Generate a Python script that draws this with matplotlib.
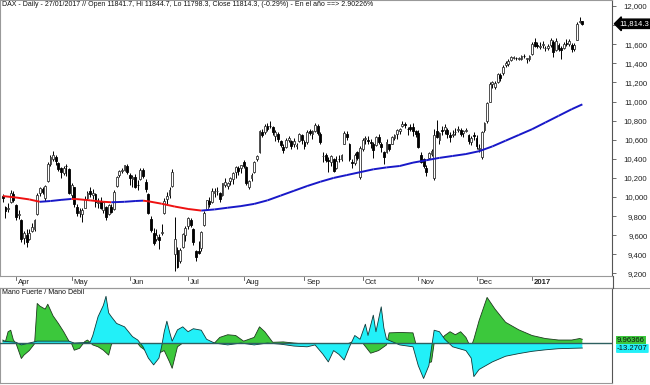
import matplotlib
matplotlib.use('Agg')
import matplotlib.pyplot as plt
import numpy as np
import pandas as pd
from matplotlib.collections import LineCollection
from matplotlib.transforms import blended_transform_factory
from matplotlib.lines import Line2D

plt.rcParams['font.family'] = ['Liberation Sans', 'DejaVu Sans']

# ---------------- data ----------------
holidays = ['2016-03-25', '2016-03-28', '2016-12-26']

opens = [10010,9900,9870,9950,10030,
 9920,9810,9760,9570,9600,9560,9640,9660,9820,10040,10080,9990,10170,10350,10400,10420,10360,10300,10250,10330,10290,
 10020,10100,9900,9830,9820,9890,9990,10060,10020,10030,9940,9960,9860,9900,9820,9900,9870,10120,10230,10270,10280,10320,
 10230,10190,10210,10130,10190,10280,10160,10030,9770,9620,9560,9580,9620,9830,9980,10020,10120,9400,9450,9330,9480,9600,
 9700,9760,9660,9430,9430,9470,9710,9870,9960,9950,10040,10060,10040,10020,10130,10120,10170,10190,10260,10300,10300,
 10370,10310,10100,10200,10260,10400,10470,10680,10680,10740,10740,10730,10640,10660,10590,10520,10520,10600,10590,10550,10530,10590,10650,
 10580,10580,10690,10660,10690,10740,10660,10430,10440,10380,10370,10400,10300,10400,10400,10560,10660,10560,10370,10360,10470,10210,
 10500,10610,10600,10570,10560,10540,10630,10560,10470,10470,10550,10560,10620,10660,10690,10740,10760,10710,10730,10730,10690,
 10670,10440,10400,10300,10410,10450,10200,10690,10600,10700,10700,10700,10650,10650,10680,10700,10700,10670,10690,10650,10580,10650,
 10620,10500,10420,10700,10800,11000,11180,11150,11200,11280,11300,11380,11390,11430,11460,11460,11450,11440,11480,11440,11440,
 11500,11620,11590,11570,11590,11560,11560,11590,11620,11540,11590,11560,11560,11610,11600,11590,11550,11640,11830,11842]

highs = [10030,9905,9940,10070,10060,
 9930,9860,9770,9640,9660,9660,9730,9770,10040,10110,10100,10130,10370,10440,10480,10440,10370,10310,10330,10350,10300,
 10150,10110,9930,9880,9880,10010,10060,10100,10080,10040,9990,10000,9960,9910,9930,9930,10070,10220,10280,10300,10340,10350,
 10250,10230,10240,10180,10300,10300,10190,10040,9800,9680,9660,9610,9720,9990,10050,10100,10290,9790,9480,9470,9620,9700,
 9790,9780,9680,9450,9540,9640,9850,9970,10000,10090,10090,10100,10050,10150,10200,10160,10210,10260,10330,10330,10340,
 10390,10320,10180,10250,10380,10440,10700,10710,10760,10770,10800,10740,10700,10680,10600,10560,10620,10640,10600,10620,10570,10670,10660,
 10600,10700,10710,10700,10770,10760,10680,10470,10460,10420,10440,10410,10430,10440,10450,10690,10690,10570,10400,10460,10480,10530,
 10620,10640,10640,10610,10580,10640,10660,10580,10480,10610,10560,10640,10660,10710,10720,10800,10790,10730,10760,10770,10700,
 10700,10470,10410,10340,10470,10500,10710,10810,10680,10740,10760,10720,10680,10700,10720,10740,10720,10700,10720,10660,10640,10680,
 10650,10550,10690,10790,11000,11200,11220,11220,11300,11300,11380,11420,11440,11480,11480,11470,11470,11490,11500,11460,11490,
 11620,11670,11620,11620,11630,11580,11600,11660,11640,11660,11610,11580,11620,11650,11650,11610,11610,11830,11890,11845]

lows = [9950,9780,9840,9940,9950,
 9760,9770,9530,9510,9480,9550,9630,9640,9810,10010,10030,9960,10160,10320,10380,10340,10270,10200,10230,10220,10030,
 9990,9900,9800,9790,9740,9880,9970,10000,9980,9900,9880,9870,9830,9760,9810,9830,9860,10110,10210,10250,10270,10240,
 10130,10110,10090,10070,10180,10200,10050,9820,9630,9500,9540,9460,9600,9820,9930,9990,10100,9225,9260,9310,9470,9540,
 9660,9690,9500,9330,9400,9440,9700,9860,9900,9940,10000,10020,9950,10010,10100,10080,10130,10140,10200,10230,10250,
 10300,10130,10080,10170,10250,10380,10460,10630,10660,10690,10720,10650,10590,10580,10520,10460,10510,10580,10500,10520,10500,10580,10560,
 10500,10560,10650,10610,10680,10650,10560,10370,10370,10260,10330,10260,10290,10370,10380,10550,10600,10380,10300,10340,10390,10190,
 10480,10560,10560,10510,10410,10530,10560,10470,10350,10460,10480,10550,10600,10610,10660,10730,10720,10650,10690,10640,10630,
 10510,10360,10300,10220,10400,10430,10180,10620,10560,10650,10660,10620,10580,10630,10650,10680,10640,10630,10680,10560,10540,10600,
 10500,10470,10400,10680,10780,10990,11140,11130,11190,11220,11280,11360,11370,11420,11440,11430,11430,11430,11460,11400,11420,
 11490,11570,11560,11550,11560,11530,11540,11570,11470,11530,11530,11450,11550,11580,11580,11520,11530,11640,11820,11798]

closes = [9990,9851,9887,10046,9965,
 9794,9822,9564,9624,9530,9622,9682,9761,10026,10094,10051,10120,10350,10421,10435,10373,10294,10259,10299,10321,10039,
 10123,9926,9828,9851,9869,9980,10045,10028,10038,9952,9952,9890,9943,9796,9916,9842,10057,10205,10272,10286,10333,10263,
 10204,10208,10103,10121,10288,10217,10088,9834,9657,9519,9606,9550,9631,9962,10015,10071,10257,9557,9268,9447,9612,9680,
 9776,9709,9532,9373,9418,9629,9833,9964,9930,10068,10066,10064,9981,10142,10157,10147,10198,10247,10319,10275,10337,
 10330,10144,10170,10228,10367,10432,10692,10650,10742,10713,10739,10676,10679,10603,10544,10494,10593,10622,10529,10587,10544,10657,10592,
 10534,10684,10672,10687,10752,10675,10573,10432,10386,10379,10431,10276,10373,10393,10436,10674,10627,10394,10361,10438,10405,10511,
 10600,10619,10585,10568,10490,10624,10577,10523,10414,10580,10503,10631,10645,10701,10711,10761,10757,10709,10717,10696,10665,
 10526,10370,10325,10259,10456,10482,10646,10630,10668,10693,10735,10664,10627,10665,10685,10713,10662,10689,10700,10582,10620,10640,
 10534,10513,10684,10775,10986,11179,11203,11190,11284,11244,11366,11404,11427,11464,11468,11456,11450,11472,11475,11451,11481,
 11598,11584,11585,11585,11599,11563,11583,11646,11521,11629,11554,11540,11599,11603,11630,11545,11595,11807,11848,11814]

# moving average (read at key trading-day positions)
ma_idx = [0,5,10,14,18,22,26,28,33,38,41,46,50,53,55,60,65,70,75,80,85,90,95,100,105,110,
          115,120,125,130,135,140,145,150,155,160,165,170,175,180,185,190,195,200,205,210,215,219]
ma_val = [10010,9995,9975,9950,9958,9970,9980,9978,9965,9950,9945,9950,9958,9962,9955,9930,9900,9875,9858,9870,
          9888,9905,9928,9965,10015,10065,10115,10160,10200,10230,10260,10290,10310,10325,10360,10385,10410,10430,
          10450,10480,10530,10590,10650,10710,10780,10850,10920,10970]

# Mano Fuerte (green) and Mano Debil (cyan) at key trading-day positions
g_idx = [0,1,2,3,4,5,7,8,10,12,13,14,16,17,19,21,23,25,26,27,29,31,32,34,36,38,40,41,42,50,52,55,58,61,63,64,66,
         70,74,77,80,82,85,88,91,95,97,99,102,106,110,115,120,123,126,129,133,136,139,142,145,146,150,155,156,158,
         160,162,163,165,167,169,171,173,175,176,177,178,180,183,186,190,195,200,205,210,215,218,219]
g_val = [8,4,30,34,8,-1,-41,-32,-20,-2,105,98,90,103,72,52,30,5,-2,-19,-14,4,8,-5,-10,-19,-32,-5,8,8,-10,-25,-30,-20,-50,-67,-10,
         10,8,5,0,15,22,20,5,15,43,30,2,3,0,-3,-5,-10,-15,-5,5,0,-27,-20,-5,27,28,27,0,-40,
         -54,-50,0,5,20,30,22,30,15,0,-10,10,60,121,90,55,35,20,12,8,8,12,9.96366]
c_idx = [0,5,7,10,13,25,27,33,34,36,38,39,40,41,43,46,49,51,53,55,57,59,60,61,62,63,64,66,68,70,72,75,77,80,85,90,95,
         100,105,110,115,118,121,123,125,127,129,131,133,135,137,138,140,141,143,144,145,150,155,157,159,161,163,165,
         167,170,175,177,178,180,185,190,195,200,205,210,215,219]
c_val = [5,2,-5,0,5,5,0,2,20,70,100,124,80,70,52,43,17,8,-10,-40,-58,-40,-10,30,58,30,5,35,43,30,38,34,10,0,-5,0,-5,
         0,-3,-8,-10,-5,-30,-50,-20,-30,-45,-10,20,10,50,20,74,30,96,40,10,-5,-10,-60,-94,-60,34,30,
         10,-10,-20,-40,-89,-70,-50,-35,-28,-22,-18,-15,-14,-13.2707]

month_labels = ['Apr', 'May', 'Jun', 'Jul', 'Aug', 'Sep', 'Oct', 'Nov', 'Dec', '2017']
price_ticks = list(range(9200, 12001, 200))
price_labels = ['' if v == 11800 else f'{v:,}' for v in price_ticks]

title = ('DAX - Daily - 27/01/2017 // Open 11841.7, Hi 11844.7, Lo 11798.3, '
         'Close 11814.3, (-0.29%) - En el año ==> 2.90226%')

# ---------------- figure ----------------
W, H = 650, 385
fig = plt.figure(figsize=(W / 100, H / 100), dpi=100)
fig.patch.set_facecolor('white')

def fx(px):
    return px / W

def fy(py):
    return 1 - py / H

n = len(closes)
dates = pd.bdate_range('2016-03-23', '2017-01-27')
dates = dates[~dates.isin(pd.to_datetime(holidays))][:n]
x = np.arange(n)

XL = (-1.06, 230.2)
ax1 = fig.add_axes([0, fy(276), fx(612), 276 / H])
ax2 = fig.add_axes([0, fy(383), fx(612), (383 - 288) / H])

# candles
o = np.array(opens); h = np.array(highs); l = np.array(lows); c = np.array(closes)
ax1.vlines(x, l, h, color='black', lw=0.7, zorder=1)
up = c >= o
bot = np.minimum(o, c)
ht = np.maximum(np.abs(c - o), 4)
ax1.bar(x[up], ht[up], bottom=bot[up], width=0.7, facecolor='white', edgecolor='#333333', lw=0.6, zorder=2)
ax1.bar(x[~up], ht[~up], bottom=bot[~up], width=0.7, facecolor='black', edgecolor='black', lw=0.6, zorder=2)

# moving average coloured by slope
pts = np.column_stack([ma_idx, ma_val])
segs = np.stack([pts[:-1], pts[1:]], axis=1)
cols = ['#EE1111' if b < a else '#1818C8' for a, b in zip(ma_val[:-1], ma_val[1:])]
ax1.add_collection(LineCollection(segs, colors=cols, lw=1.4, zorder=3))

ax1.set_xlim(*XL)
ax1.set_ylim(9173, 12063)
ax1.set_xticks([])
ax1.yaxis.tick_right()
ax1.set_yticks(price_ticks)
ax1.set_yticklabels(price_labels)
ax1.tick_params(axis='y', direction='out', length=3, width=0.6, color='#555555', pad=22.5,
                labelsize=5.6, labelcolor='#222222')
for lab in ax1.get_yticklabels():
    lab.set_horizontalalignment('right')
for s in ['left', 'top', 'bottom']:
    ax1.spines[s].set_color('#999999'); ax1.spines[s].set_linewidth(0.8)
ax1.spines['right'].set_color('#555555'); ax1.spines['right'].set_linewidth(0.8)

# last price tag
tr = blended_transform_factory(ax1.transAxes, ax1.transData)
ax1.text(1.012, closes[-1], '11,814.3', transform=tr, color='white', fontsize=5.6, va='center', ha='left',
         bbox=dict(boxstyle='larrow,pad=0.15', fc='black', ec='black'), clip_on=False, zorder=5)

# title
fig.text(fx(2), fy(1.5), title, fontsize=5.05, va='top', ha='left', color='#111111')

# month labels
month_start = [i for i in range(1, n) if dates[i].month != dates[i - 1].month]
for k, i in enumerate(month_start):
    xpix = 612 * (i - XL[0]) / (XL[1] - XL[0])
    fig.add_artist(Line2D([fx(xpix), fx(xpix)], [fy(277), fy(280)], color='#555555', lw=0.6))
    fig.text(fx(xpix + 2), fy(282), month_labels[k], fontsize=5.6, va='center', ha='left',
             color='#222222', fontweight='bold' if month_labels[k] == '2017' else 'normal')

# separator lines
fig.add_artist(Line2D([0, 1], [fy(288), fy(288)], color='#999999', lw=0.8))
fig.add_artist(Line2D([fx(612.5), fx(612.5)], [fy(276), fy(288)], color='#555555', lw=0.8))

# ---------------- indicator ----------------
xg = np.array(g_idx); yg = np.array(g_val, float)
xc = np.array(c_idx); yc = np.array(c_val, float)
ax2.fill_between(xg, 0, yg, facecolor='#3CC83C', edgecolor='none', zorder=1)
ax2.plot(xg, yg, color='#1E3A1E', lw=0.6, zorder=2)
ax2.fill_between(xc, 0, yc, facecolor='#22F0F8', edgecolor='none', zorder=3)
ax2.plot(xc, yc, color='#103838', lw=0.6, zorder=4)
ax2.axhline(0, color='#2D6060', lw=1.0, zorder=5)
ax2.set_xlim(*XL)
ax2.set_ylim(-106, 146)
ax2.set_xticks([]); ax2.set_yticks([])
for s in ['left', 'top', 'bottom']:
    ax2.spines[s].set_color('#999999'); ax2.spines[s].set_linewidth(0.8)
ax2.spines['right'].set_color('#555555'); ax2.spines['right'].set_linewidth(0.8)
fig.text(fx(2), fy(289.5), 'Mano Fuerte / Mano Débil', fontsize=5.05, va='top', ha='left', color='#111111')

fig.text(fx(617), fy(340), '9.96366', fontsize=5.6, va='center', ha='left', color='#111111',
         bbox=dict(boxstyle='square,pad=0.12', fc='#3CC83C', ec='none'))
fig.text(fx(617), fy(348.5), '-13.2707', fontsize=5.6, va='center', ha='left', color='#111111',
         bbox=dict(boxstyle='round,pad=0.12', fc='#22F0F8', ec='none'))

fig.savefig('out.png', dpi=100, facecolor='white')
